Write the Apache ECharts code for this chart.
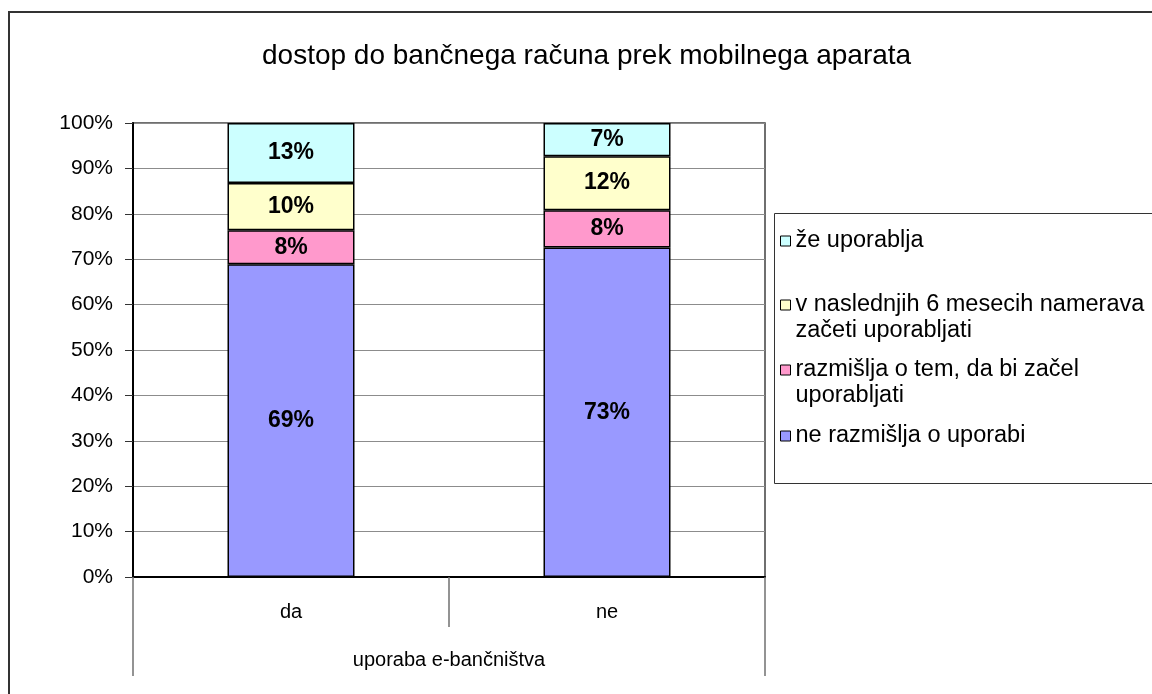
<!DOCTYPE html>
<html>
<head>
<meta charset="utf-8">
<script src="https://cdn.jsdelivr.net/npm/echarts@6/dist/echarts.min.js"></script>
<style>
html,body{margin:0;padding:0;background:#fff;}
#chart{width:1152px;height:694px;}
</style>
</head>
<body>
<div id="chart"></div>
<script>
const titleText = 'dostop do bančnega računa prek mobilnega aparata';
const categories = ['da', 'ne'];
const groupLabel = ['uporaba e-bančništva'];
const seriesNames = ['ne razmišlja o uporabi', 'razmišlja o tem, da bi začel uporabljati', 'v naslednjih 6 mesecih namerava začeti uporabljati', 'že uporablja'];
const legendLines = {
  'že uporablja': 'že uporablja',
  'v naslednjih 6 mesecih namerava začeti uporabljati': 'v naslednjih 6 mesecih namerava\nzačeti uporabljati',
  'razmišlja o tem, da bi začel uporabljati': 'razmišlja o tem, da bi začel\nuporabljati',
  'ne razmišlja o uporabi': 'ne razmišlja o uporabi'
};
const neRazmislja = [68.9, 72.6];
const razmislja = [7.5, 8.2];
const namerava = [10.4, 11.9];
const zeUporablja = [13.2, 7.3];
const seriesColors = ['#9999FF', '#FF99CC', '#FFFFCC', '#CCFFFF'];
const yTicks = [0, 10, 20, 30, 40, 50, 60, 70, 80, 90, 100];

const FONT = '"Liberation Sans", Arial, sans-serif';
const values = [neRazmislja, razmislja, namerava, zeUporablja];

const chart = echarts.init(document.getElementById('chart'), null, {renderer: 'canvas'});

const legendTops = {
  'že uporablja': 228,
  'v naslednjih 6 mesecih namerava začeti uporabljati': 266,
  'razmišlja o tem, da bi začel uporabljati': 331,
  'ne razmišlja o uporabi': 423
};

const legends = seriesNames.map(function (n) {
  const multi = legendLines[n].indexOf('\n') >= 0;
  return {
    data: [n],
    left: 780,
    top: legendTops[n],
    orient: 'vertical',
    padding: 0,
    icon: 'rect',
    itemWidth: 10,
    itemHeight: 10,
    selectedMode: false,
    itemStyle: {borderColor: '#000', borderWidth: 1},
    textStyle: {fontFamily: FONT, fontSize: 23.5, color: '#000', lineHeight: 26},
    formatter: function (name) { return multi ? '\n' + legendLines[name] : legendLines[name]; }
  };
});

const option = {
  backgroundColor: '#fff',
  animation: false,
  title: {
    text: titleText,
    left: 262,
    top: 42,
    padding: 0,
    textStyle: {fontFamily: FONT, fontSize: 28, fontWeight: 'normal', color: '#000'}
  },
  graphic: [
    {type: 'rect', z: -10, shape: {x: 9, y: 12, width: 1200, height: 700}, style: {fill: 'none', stroke: '#333', lineWidth: 2}},
    {type: 'rect', z: -10, shape: {x: 774.5, y: 213.5, width: 400, height: 270}, style: {fill: '#fff', stroke: '#333', lineWidth: 1}}
  ],
  legend: legends,
  grid: {
    left: 133, right: 387, top: 123, bottom: 117,
    show: true, borderColor: '#404040', borderWidth: 1.5, backgroundColor: 'transparent'
  },
  xAxis: [
    {
      type: 'category',
      data: categories,
      position: 'bottom',
      axisLine: {lineStyle: {color: '#000', width: 2}},
      axisTick: {show: true, length: 50, lineStyle: {color: '#707070', width: 1.5}},
      axisLabel: {fontFamily: FONT, fontSize: 20, color: '#000', margin: 25},
      splitLine: {show: false}
    },
    {
      type: 'category',
      data: groupLabel,
      position: 'bottom',
      offset: 0,
      axisLine: {show: false},
      axisTick: {show: true, length: 99, lineStyle: {color: '#707070', width: 1.5}},
      axisLabel: {fontFamily: FONT, fontSize: 20, color: '#000', margin: 73},
      splitLine: {show: false}
    }
  ],
  yAxis: {
    type: 'value',
    min: yTicks[0],
    max: yTicks[yTicks.length - 1],
    interval: 10,
    axisLine: {show: true, lineStyle: {color: '#000', width: 2}},
    axisTick: {show: true, length: 8, lineStyle: {color: '#333'}},
    axisLabel: {fontFamily: FONT, fontSize: 21, color: '#000', margin: 20, formatter: '{value}%'},
    splitLine: {show: true, lineStyle: {color: '#8c8c8c', width: 1}}
  },
  series: seriesNames.map(function (n, i) {
    return {
      name: n,
      type: 'bar',
      stack: 'total',
      xAxisIndex: 0,
      barWidth: 127,
      data: values[i],
      itemStyle: {color: seriesColors[i], borderColor: '#000', borderWidth: 1.5},
      label: {
        show: true,
        position: 'inside',
        fontFamily: FONT,
        fontSize: 23,
        fontWeight: 'bold',
        color: '#000',
        formatter: function (p) { return Math.round(p.value) + '%'; }
      }
    };
  })
};

chart.setOption(option);
</script>
</body>
</html>
